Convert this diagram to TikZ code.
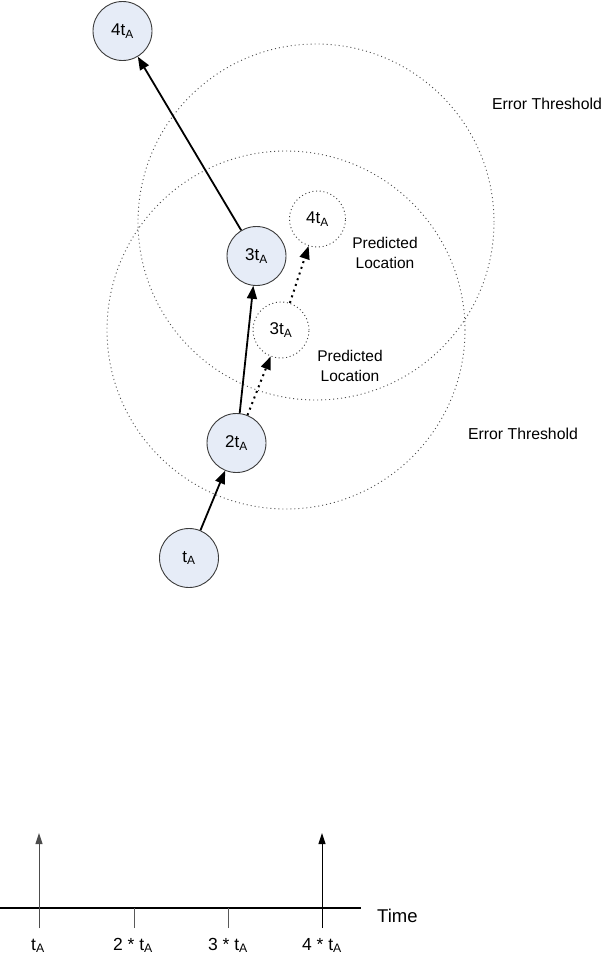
\documentclass[tikz,border=0pt]{standalone}
\usepackage{fontspec}
\setmainfont{Liberation Sans}
\usetikzlibrary{arrows.meta}
\definecolor{stfill}{RGB}{230,236,247}
\definecolor{stdraw}{RGB}{60,60,60}
\begin{document}
\begin{tikzpicture}[x=1pt,y=-1pt,
  font=\fontsize{15.5}{20}\selectfont,
  state/.style={circle, draw=stdraw, fill=stfill, line width=0.9pt, minimum size=59pt, inner sep=0pt, font=\fontsize{17}{20}\selectfont},
  pred/.style={circle, draw=black!75, line width=0.9pt, dash pattern=on 1pt off 2.7pt, minimum size=56pt, inner sep=0pt, font=\fontsize{17}{20}\selectfont},
  threshold/.style={draw=black!70, line width=0.9pt, dash pattern=on 1pt off 3pt},
  move/.style={draw=black, line width=1.8pt, -{Triangle[length=13pt,width=10pt]}},
  predmove/.style={draw=black, line width=2pt, dash pattern=on 2pt off 4pt, -{Triangle[length=13pt,width=10pt]}},
  axisline/.style={draw=black, line width=1.8pt},
  tick/.style={draw=black!65, line width=1pt},
  event/.style={line width=1pt, -{Triangle[length=11pt,width=7pt]}},
  lbl/.style={align=center, inner sep=0pt},
  axlbl/.style={inner sep=0pt, font=\fontsize{17.5}{20}\selectfont}
]
\useasboundingbox (0,0) rectangle (604,956);

% error threshold circles
\coordinate (c4) at (316,222);
\coordinate (c3) at (286,330);
\draw[threshold] (c4) circle[radius=178pt];
\draw[threshold] (c3) circle[radius=179pt];

% predicted locations
\node[pred] (p3) at (281,330) {3t\textsubscript{A}};
\node[pred] (p4) at (317.5,219) {4t\textsubscript{A}};

% actual states
\node[state] (s1) at (189,558) {t\textsubscript{A}};
\node[state] (s2) at (236.5,443) {2t\textsubscript{A}};
\node[state] (s3) at (256.5,256) {3t\textsubscript{A}};
\node[state] (s4) at (122.5,31) {4t\textsubscript{A}};

% movements
\draw[move] (s1) -- (s2);
\draw[move] (s2) -- (s3);
\draw[move] (s3) -- (s4);
\draw[predmove] (s2) -- (p3);
\draw[predmove] (p3) -- (p4);

% labels
\node[lbl] (pl4) at (385,253) {Predicted\\Location};
\node[lbl] (pl3) at (350,366) {Predicted\\Location};
\node[lbl, anchor=base, font=\fontsize{15.8}{20}\selectfont] (et4) at (547,109) {Error Threshold};
\node[lbl, anchor=base, font=\fontsize{15.8}{20}\selectfont] (et3) at (523,439) {Error Threshold};

% time axis
\coordinate (ax0) at (0,908);
\coordinate (ax1) at (361,908);
\draw[axisline] (ax0) -- (ax1);
\node[axlbl, anchor=base west, font=\fontsize{18.5}{20}\selectfont] (time) at (377,922) {Time};

\coordinate (e1b) at (39,928);  \coordinate (e1t) at (39,833);
\coordinate (k2b) at (134,928); \coordinate (k2t) at (134,908);
\coordinate (k3b) at (228,928); \coordinate (k3t) at (228,908);
\coordinate (e4b) at (322,928); \coordinate (e4t) at (322,833);
\draw[event, draw=black!70, fill=black] (e1b) -- (e1t);
\draw[tick] (k2b) -- (k2t);
\draw[tick] (k3b) -- (k3t);
\draw[event, draw=black] (e4b) -- (e4t);

\node[axlbl, anchor=base] (tl1) at (38,950) {t\textsubscript{A}};
\node[axlbl, anchor=base] (tl2) at (133,950) {2 * t\textsubscript{A}};
\node[axlbl, anchor=base] (tl3) at (228,950) {3 * t\textsubscript{A}};
\node[axlbl, anchor=base] (tl4) at (322,950) {4 * t\textsubscript{A}};
\end{tikzpicture}
\end{document}
